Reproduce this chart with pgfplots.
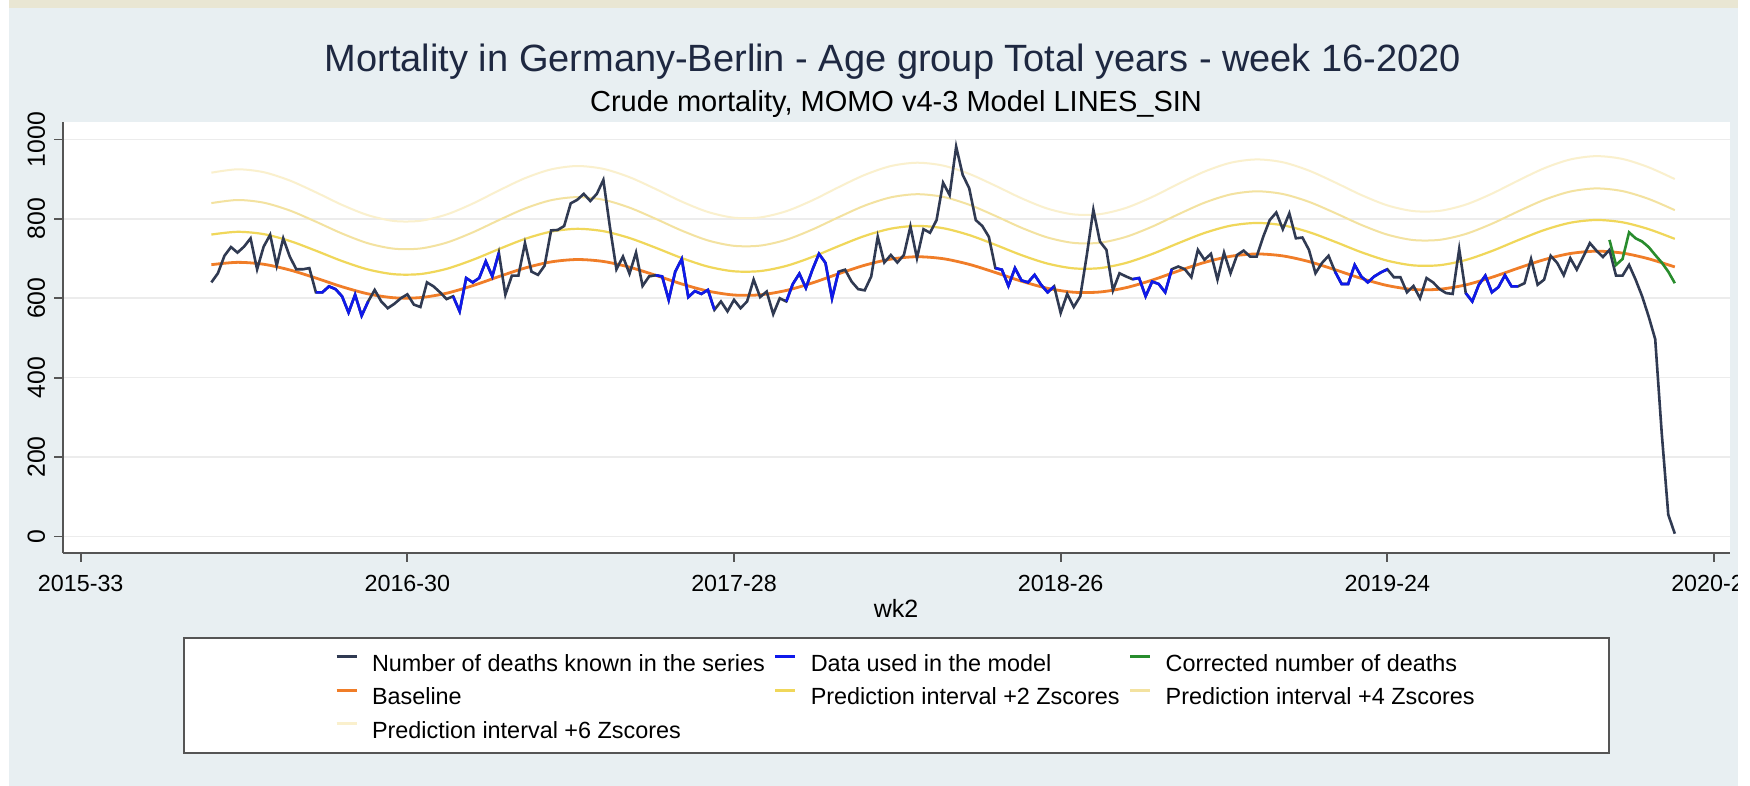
\documentclass[border=0pt]{standalone}
\usepackage{fontspec}
\setmainfont{Liberation Sans}
\usepackage{pgfplots}
\pgfplotsset{compat=1.18}
\definecolor{bgblue}{RGB}{232,239,242}
\definecolor{beigestrip}{RGB}{233,230,211}
\definecolor{axisgray}{RGB}{85,85,85}
\definecolor{gridgray}{RGB}{236,236,236}
\definecolor{titlecol}{RGB}{30,40,65}
\definecolor{deathcol}{RGB}{48,58,82}
\definecolor{bluecol}{RGB}{15,25,235}
\definecolor{greencol}{RGB}{40,140,45}
\definecolor{orangecol}{RGB}{240,125,40}
\definecolor{ztwocol}{RGB}{240,215,90}
\definecolor{zfourcol}{RGB}{243,226,160}
\definecolor{zsixcol}{RGB}{250,240,205}
\begin{document}
\begin{tikzpicture}
\path[use as bounding box] (0,0) rectangle (875pt,393pt);
\fill[white] (0,0) rectangle (875pt,393pt);
\fill[bgblue] (4.5pt,0) rectangle (869pt,389pt);
\fill[beigestrip] (4.5pt,389pt) rectangle (869pt,393pt);
\draw[axisgray, line width=1pt, fill=white] (92pt,16.5pt) rectangle (804.5pt,74pt);
\node[anchor=base, font=\fontsize{19}{22}\selectfont, text=titlecol, inner sep=0pt] at (446.5pt,357pt) {Mortality in Germany-Berlin - Age group Total years - week 16-2020};
\node[anchor=base, font=\fontsize{14.5}{17}\selectfont, inner sep=0pt] at (448pt,337pt) {Crude mortality, MOMO v4-3 Model LINES\_SIN};
\node[anchor=base, font=\fontsize{12.5}{15}\selectfont, inner sep=0pt] at (448pt,84pt) {wk2};
\begin{axis}[
  at={(31.5pt,116.5pt)}, anchor=south west,
  scale only axis, width=833.5pt, height=215.5pt,
  xmin=-2.71, xmax=252.45, ymin=-41.6, ymax=1044,
  axis x line*=bottom, axis y line*=left,
  axis line style={-, draw=axisgray, line width=0.9pt},
  axis background/.style={fill=white},
  ymajorgrids, grid style={gridgray, line width=0.8pt},
  xtick={0,50,100,150,200,250},
  xticklabels={2015-33,2016-30,2017-28,2018-26,2019-24,2020-22},
  ytick={0,200,400,600,800,1000},
  tick align=outside, major tick length=4.5pt,
  tick style={axisgray, line width=0.9pt},
  /pgf/number format/assume math mode=true,
  /pgf/number format/1000 sep={},
  xticklabel style={font=\fontsize{11.65}{14}\selectfont, anchor=base, inner sep=0pt},
  xticklabel shift=14.85pt,
  yticklabel style={font=\fontsize{12.4}{14}\selectfont, rotate=90, anchor=south, inner sep=0pt},
  yticklabel shift=4.25pt,
  legend columns=3,
  legend cell align=left,
  legend image code/.code={\path (0pt,0pt) (10pt,0pt); \draw[#1,line width=1.5pt] (0pt,4.2pt) -- (10pt,4.2pt);},
  legend style={at={(axis description cs:0.16317,-0.2295)}, anchor=north west,
    draw=none, fill=none, inner sep=0pt, outer sep=0pt,
    font=\fontsize{11.7}{14}\selectfont,
    nodes={inner sep=1pt, text height=8.6pt, text depth=2.4pt},
    /tikz/row sep=3.85pt,
    /tikz/every odd column/.append style={column sep=6pt},
    /tikz/every even column/.append style={column sep=3.5pt}},
]
\addlegendimage{deathcol}
\addlegendentry{Number of deaths known in the series}
\addlegendimage{bluecol}
\addlegendentry{Data used in the model}
\addlegendimage{greencol}
\addlegendentry{Corrected number of deaths}
\addlegendimage{orangecol}
\addlegendentry{Baseline}
\addlegendimage{ztwocol}
\addlegendentry{Prediction interval +2 Zscores}
\addlegendimage{zfourcol}
\addlegendentry{Prediction interval +4 Zscores}
\addlegendimage{zsixcol}
\addlegendentry{Prediction interval +6 Zscores}

% +6 Zscores
\addplot[zsixcol, line width=1pt, smooth, forget plot] coordinates {
(20,916.3)(24,924.8)(28,917.6)(32,896.6)(36,866.9)(40,835.2)(44,809.1)(48,794.6)(52,795.2)(56,811.0)
(60,838.4)(64,871.4)(68,902.4)(72,924.6)(76,933.1)(80,925.9)(84,905.0)(88,875.2)(92,843.5)(96,817.4)
(100,802.9)(104,803.6)(108,819.3)(112,846.7)(116,879.7)(120,910.7)(124,933.0)(128,941.4)(132,934.2)(136,913.3)
(140,883.5)(144,851.9)(148,825.7)(152,811.2)(156,811.9)(160,827.6)(164,855.1)(168,888.0)(172,919.0)(176,941.3)
(180,949.7)(184,942.6)(188,921.6)(192,891.8)(196,860.2)(200,834.0)(204,819.6)(208,820.2)(212,835.9)(216,863.4)
(220,896.3)(224,927.4)(228,949.6)(232,958.0)(236,950.9)(240,929.9)(244,900.2)};
% +4 Zscores
\addplot[zfourcol, line width=1pt, smooth, forget plot] coordinates {
(20,839.7)(24,847.5)(28,840.8)(32,821.1)(36,792.9)(40,763.1)(44,738.4)(48,724.8)(52,725.4)(56,740.1)
(60,765.9)(64,796.8)(68,826.1)(72,847.0)(76,854.8)(80,848.1)(84,828.3)(88,800.2)(92,770.4)(96,745.7)
(100,732.1)(104,732.6)(108,747.4)(112,773.2)(116,804.1)(120,833.4)(124,854.2)(128,862.1)(132,855.4)(136,835.6)
(140,807.5)(144,777.6)(148,753.0)(152,739.4)(156,739.9)(160,754.7)(164,780.4)(168,811.4)(172,840.7)(176,861.5)
(180,869.4)(184,862.6)(188,842.9)(192,814.8)(196,784.9)(200,760.3)(204,746.6)(208,747.2)(212,762.0)(216,787.7)
(220,818.7)(224,847.9)(228,868.8)(232,876.7)(236,869.9)(240,850.2)(244,822.0)};
% +2 Zscores
\addplot[ztwocol, line width=1.1pt, smooth, forget plot] coordinates {
(20,760.5)(24,767.4)(28,761.6)(32,744.4)(36,719.8)(40,693.8)(44,672.4)(48,660.5)(52,661.0)(56,674.1)
(60,696.7)(64,723.8)(68,749.5)(72,767.9)(76,774.9)(80,769.0)(84,751.8)(88,727.3)(92,701.3)(96,679.8)
(100,667.9)(104,668.5)(108,681.5)(112,704.1)(116,731.3)(120,757.0)(124,775.3)(128,782.3)(132,776.5)(136,759.2)
(140,734.7)(144,708.7)(148,687.3)(152,675.3)(156,675.9)(160,689.0)(164,711.5)(168,738.7)(172,764.4)(176,782.8)
(180,789.7)(184,783.9)(188,766.7)(192,742.2)(196,716.1)(200,694.7)(204,682.8)(208,683.3)(212,696.4)(216,719.0)
(220,746.2)(224,771.8)(228,790.2)(232,797.2)(236,791.3)(240,774.1)(244,749.6)};
% Baseline
\addplot[orangecol, line width=1.4pt, smooth, forget plot] coordinates {
(20,684.6)(24,690.5)(28,685.7)(32,671.3)(36,650.9)(40,629.0)(44,611.0)(48,601.2)(52,601.7)(56,612.7)
(60,631.7)(64,654.6)(68,676.2)(72,691.6)(76,697.6)(80,692.7)(84,678.3)(88,657.9)(92,636.0)(96,618.1)
(100,608.2)(104,608.7)(108,619.7)(112,638.7)(116,661.7)(120,683.2)(124,698.6)(128,704.6)(132,699.7)(136,685.4)
(140,664.9)(144,643.0)(148,625.1)(152,615.2)(156,615.8)(160,626.7)(164,645.7)(168,668.7)(172,690.2)(176,705.7)
(180,711.6)(184,706.7)(188,692.4)(192,671.9)(196,650.1)(200,632.1)(204,622.2)(208,622.8)(212,633.7)(216,652.8)
(220,675.7)(224,697.2)(228,712.7)(232,718.6)(236,713.8)(240,699.4)(244,678.9)};
% Number of deaths known in the series
\addplot[deathcol, line width=1.3pt, forget plot] coordinates {
(20,640)(21,663)(22,707)(23,729)(24,715)(25,730)(26,751)(27,673)(28,730)(29,760)
(30,682)(31,751)(32,705)(33,673)(34,673)(35,676)(36,615)(37,615)(38,630)(39,623)
(40,605)(41,564)(42,609)(43,556)(44,592)(45,621)(46,592)(47,575)(48,586)(49,600)
(50,610)(51,584)(52,578)(53,640)(54,630)(55,615)(56,598)(57,605)(58,567)(59,651)
(60,640)(61,651)(62,693)(63,655)(64,715)(65,609)(66,657)(67,657)(68,739)(69,667)
(70,659)(71,682)(72,771)(73,772)(74,782)(75,839)(76,848)(77,863)(78,845)(79,863)
(80,898)(81,780)(82,673)(83,705)(84,662)(85,715)(86,631)(87,655)(88,658)(89,655)
(90,596)(91,667)(92,699)(93,603)(94,618)(95,611)(96,621)(97,571)(98,592)(99,567)
(100,596)(101,575)(102,592)(103,647)(104,603)(105,617)(106,560)(107,600)(108,592)(109,636)
(110,662)(111,626)(112,672)(113,712)(114,689)(115,600)(116,667)(117,672)(118,642)(119,623)
(120,620)(121,655)(122,755)(123,690)(124,709)(125,690)(126,709)(127,781)(128,701)(129,774)
(130,765)(131,797)(132,891)(133,860)(134,982)(135,911)(136,877)(137,797)(138,782)(139,755)
(140,676)(141,672)(142,631)(143,676)(144,645)(145,640)(146,659)(147,634)(148,615)(149,630)
(150,563)(151,611)(152,578)(153,605)(154,709)(155,823)(156,743)(157,722)(158,620)(159,663)
(160,655)(161,648)(162,651)(163,605)(164,642)(165,636)(166,615)(167,673)(168,680)(169,673)
(170,653)(171,722)(172,697)(173,712)(174,647)(175,715)(176,663)(177,709)(178,720)(179,705)
(180,705)(181,755)(182,797)(183,816)(184,774)(185,814)(186,751)(187,753)(188,722)(189,663)
(190,689)(191,707)(192,667)(193,636)(194,636)(195,684)(196,655)(197,640)(198,655)(199,665)
(200,673)(201,653)(202,653)(203,615)(204,631)(205,600)(206,651)(207,640)(208,623)(209,613)
(210,611)(211,724)(212,613)(213,592)(214,634)(215,657)(216,615)(217,628)(218,658)(219,630)
(220,630)(221,638)(222,699)(223,634)(224,647)(225,707)(226,689)(227,658)(228,701)(229,672)
(230,705)(231,739)(232,720)(233,704)(234,722)(235,657)(236,657)(237,684)(238,647)(239,605)
(240,554)(241,497)(242,260)(243,55)(244,7)};
% Data used in the model
\addplot[bluecol, line width=1.3pt, unbounded coords=jump, forget plot] coordinates {
(36,615)(37,615)(38,630)(39,623)(40,605)(41,564)(42,609)(43,556)(44,592)
(50,nan)
(57,605)(58,567)(59,651)(60,640)(61,651)(62,693)(63,655)(64,715)
(70,nan)
(88,658)(89,655)(90,596)(91,667)(92,699)(93,603)(94,618)(95,611)(96,621)(97,571)
(100,nan)
(108,592)(109,636)(110,662)(111,626)(112,672)(113,712)(114,689)(115,600)(116,667)
(120,nan)
(140,676)(141,672)(142,631)(143,676)(144,645)(145,640)(146,659)(147,634)(148,615)(149,630)
(155,nan)
(161,648)(162,651)(163,605)(164,642)(165,636)(166,615)(167,673)
(180,nan)
(192,667)(193,636)(194,636)(195,684)(196,655)(197,640)(198,655)(199,665)(200,673)
(205,nan)
(212,613)(213,592)(214,634)(215,657)(216,615)(217,628)(218,658)(219,630)(220,630)};
% Corrected number of deaths
\addplot[greencol, line width=1.3pt, forget plot] coordinates {
(234,747)(235,684)(236,699)(237,766)(238,751)(239,743)(240,729)(241,709)(242,690)(243,667)(244,638)};
\end{axis}
\fill[white] (869pt,0) rectangle (875pt,393pt);
\end{tikzpicture}
\end{document}
